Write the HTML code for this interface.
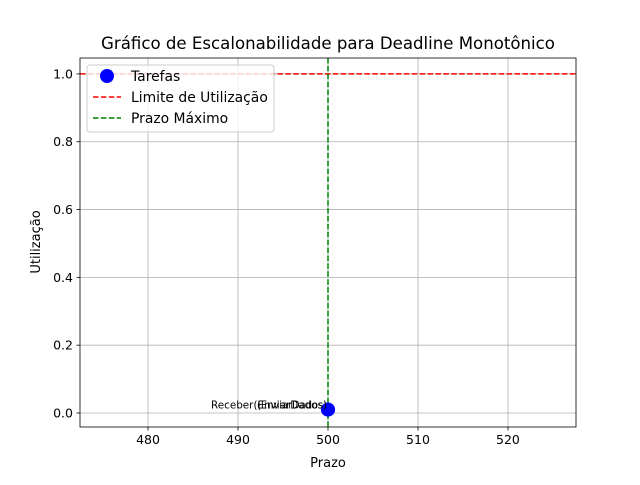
<!DOCTYPE html>
<html><head><meta charset="utf-8"><style>body{margin:0;background:#fff}svg{font-family:"DejaVu Sans","Liberation Sans",sans-serif}</style></head>
<body>
<svg id="c" width="640" height="480" xmlns="http://www.w3.org/2000/svg"></svg>
<script>
const taskNames=["Receber(EnviarDados)","(EnviarDados)"];
const deadlines=[500,500];
const utilizations=[0.01,0.01];
const xTicks=[480,490,500,510,520];
const yTicks=[0.0,0.2,0.4,0.6,0.8,1.0];
const utilLimit=1.0;
const maxDeadline=500;
const L=80,R=576,T=58,B=427,xmin=472.44,xmax=527.56,ymin=-0.0413,ymax=1.047;
const X=v=>L+(v-xmin)/(xmax-xmin)*(R-L);
const Y=v=>B-(v-ymin)/(ymax-ymin)*(B-T);
const svg=document.getElementById('c');const NS='http://www.w3.org/2000/svg';
function mk(t,a,txt){const e=document.createElementNS(NS,t);for(const k in a)e.setAttribute(k,a[k]);if(txt!=null)e.textContent=txt;svg.appendChild(e);return e;}
let e=mk('text',{x:328,y:49,'font-size':16.6,'text-anchor':'middle'},'Gráfico de Escalonabilidade para Deadline Monotônico');


xTicks.forEach(v=>{const x=X(v);
e=mk('line',{x1:x,x2:x,y1:T,y2:B,stroke:'#b0b0b0','stroke-width':0.8});


mk('line',{x1:x,x2:x,y1:B,y2:B+3.5,stroke:'#000','stroke-width':0.8});
e=mk('text',{x:x,y:B+17,'font-size':12.5,'text-anchor':'middle'},String(v));

});
yTicks.forEach(v=>{const y=Y(v);
e=mk('line',{x1:L,x2:R,y1:y,y2:y,stroke:'#b0b0b0','stroke-width':0.8});


mk('line',{x1:L-3.5,x2:L,y1:y,y2:y,stroke:'#000','stroke-width':0.8});
e=mk('text',{x:L-7,y:y+4.5,'font-size':12.5,'text-anchor':'end'},v.toFixed(1));

});
e=mk('line',{x1:L,x2:R,y1:Y(utilLimit),y2:Y(utilLimit),stroke:'red','stroke-width':1.5,'stroke-dasharray':'5.5,2.4'});


e=mk('line',{x1:X(maxDeadline),x2:X(maxDeadline),y1:T,y2:B,stroke:'green','stroke-width':1.5,'stroke-dasharray':'5.5,2.4'});


deadlines.forEach((d,i)=>{
e=mk('circle',{cx:X(d),cy:Y(utilizations[i]),r:7,fill:'blue'});


e=mk('text',{x:X(d)-1,y:Y(utilizations[i])-1,'font-size':10.5,'text-anchor':'end','textLength':i==0?116:70,'lengthAdjust':'spacingAndGlyphs'},taskNames[i]);

});
e=mk('rect',{x:L,y:T,width:R-L,height:B-T,fill:'none',stroke:'#000','stroke-width':0.8});


e=mk('text',{x:328,y:467,'font-size':13,'text-anchor':'middle'},'Prazo');


e=mk('text',{x:40,y:242,'font-size':13,'text-anchor':'middle',transform:'rotate(-90 40 242)'},'Utilização');


e=mk('rect',{x:87,y:65,width:187,height:67,rx:3,fill:'#fff','fill-opacity':0.8,stroke:'#ccc'});


e=mk('circle',{cx:107,cy:76,r:7,fill:'blue'});


e=mk('line',{x1:93,x2:121,y1:97,y2:97,stroke:'red','stroke-width':1.5,'stroke-dasharray':'5.5,2.4'});


e=mk('line',{x1:93,x2:121,y1:118,y2:118,stroke:'green','stroke-width':1.5,'stroke-dasharray':'5.5,2.4'});


[['Tarefas',81],['Limite de Utilização',102],['Prazo Máximo',123]].forEach(([t,y])=>{
e=mk('text',{x:131,y:y,'font-size':13.9},t);

});
</script>
</body></html>
